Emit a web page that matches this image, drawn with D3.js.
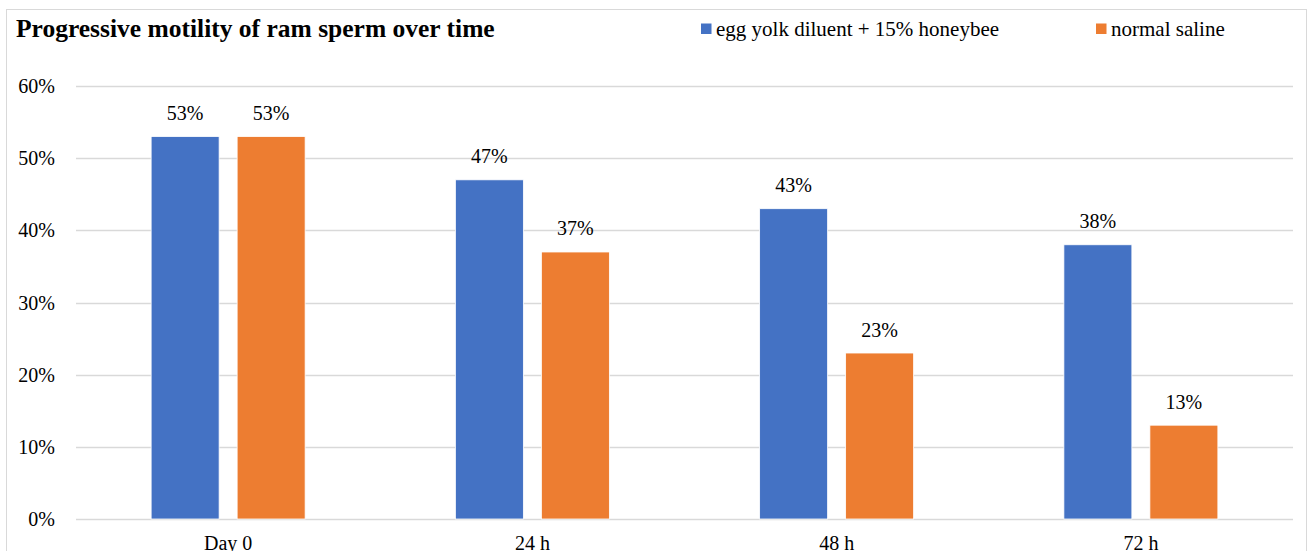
<!DOCTYPE html>
<html>
<head>
<meta charset="utf-8">
<script src="https://cdn.jsdelivr.net/npm/d3@7"></script>
<style>
  html, body { margin: 0; padding: 0; background: #fff; }
  svg { display: block; }
  svg text { font-family: "Liberation Serif", "Times New Roman", serif; }
</style>
</head>
<body>
<svg id="chart" width="1309" height="551"></svg>
<script>
const categories = ["Day 0", "24 h", "48 h", "72 h"];
const seriesNames = ["egg yolk diluent + 15% honeybee", "normal saline"];
const honeybee = [53, 47, 43, 38];
const saline = [53, 37, 23, 13];
const yTicks = [0, 10, 20, 30, 40, 50, 60];
const colors = ["#4472C4", "#ED7D31"];

const svg = d3.select("#chart");

const plotLeft = 76, plotRight = 1293;
const plotTop = 86, plotBottom = 519;

// outer frame
svg.append("rect")
    .attr("x", 6.5).attr("y", 9.5)
    .attr("width", 1300).attr("height", 560)
    .attr("fill", "none")
    .attr("stroke", "#d9d9d9")
    .attr("stroke-width", 1);

const x0 = d3.scaleBand()
    .domain(categories)
    .range([plotLeft, plotRight]);

const x1 = d3.scaleBand()
    .domain([0, 1])
    .range([0, x0.bandwidth()])
    .paddingInner(0.2093)
    .paddingOuter(0.8736);

const y = d3.scaleLinear()
    .domain([0, 60])
    .range([plotBottom, plotTop]);

// gridlines
svg.append("g")
    .selectAll("line")
    .data(yTicks)
    .join("line")
    .attr("x1", plotLeft)
    .attr("x2", plotRight)
    .attr("y1", d => Math.round(y(d)) + 0.5)
    .attr("y2", d => Math.round(y(d)) + 0.5)
    .attr("stroke", "#d9d9d9")
    .attr("stroke-width", 1.3);

// y tick labels
svg.append("g")
    .selectAll("text")
    .data(yTicks)
    .join("text")
    .attr("x", 55)
    .attr("y", d => y(d) + 7)
    .attr("text-anchor", "end")
    .attr("font-size", 20)
    .attr("fill", "#000")
    .text(d => d + "%");

const rows = categories.map((c, i) => ({ cat: c, vals: [honeybee[i], saline[i]] }));

const groups = svg.append("g")
    .selectAll("g")
    .data(rows)
    .join("g")
    .attr("transform", d => `translate(${x0(d.cat)},0)`);

groups.selectAll("rect")
    .data(d => d.vals.map((v, s) => ({ v, s })))
    .join("rect")
    .attr("x", d => x1(d.s))
    .attr("y", d => y(d.v))
    .attr("width", x1.bandwidth())
    .attr("height", d => y(0) - y(d.v))
    .attr("fill", d => colors[d.s])
    .attr("stroke", "#fff")
    .attr("stroke-width", 0.8);

groups.selectAll("text")
    .data(d => d.vals.map((v, s) => ({ v, s })))
    .join("text")
    .attr("x", d => x1(d.s) + x1.bandwidth() / 2)
    .attr("y", d => y(d.v) - 16.5)
    .attr("text-anchor", "middle")
    .attr("font-size", 20)
    .attr("fill", "#000")
    .text(d => d.v + "%");

// category labels (cut at the bottom edge as in the original)
svg.append("g")
    .selectAll("text")
    .data(categories)
    .join("text")
    .attr("x", d => x0(d) + x0.bandwidth() / 2)
    .attr("y", 550)
    .attr("text-anchor", "middle")
    .attr("font-size", 20)
    .attr("fill", "#000")
    .text(d => d);

// title
svg.append("text")
    .attr("x", 16)
    .attr("y", 37)
    .attr("font-size", 25.5)
    .attr("font-weight", "bold")
    .attr("fill", "#000")
    .text("Progressive motility of ram sperm over time");

// legend
const legendX = [701, 1096];
const legend = svg.append("g")
    .selectAll("g")
    .data(seriesNames)
    .join("g")
    .attr("transform", (d, i) => `translate(${legendX[i]},0)`);

legend.append("rect")
    .attr("x", 0).attr("y", 23.5)
    .attr("width", 10.5).attr("height", 10.5)
    .attr("fill", (d, i) => colors[i]);

legend.append("text")
    .attr("x", 15)
    .attr("y", 36)
    .attr("font-size", 21)
    .attr("fill", "#000")
    .text(d => d);
</script>
</body>
</html>
